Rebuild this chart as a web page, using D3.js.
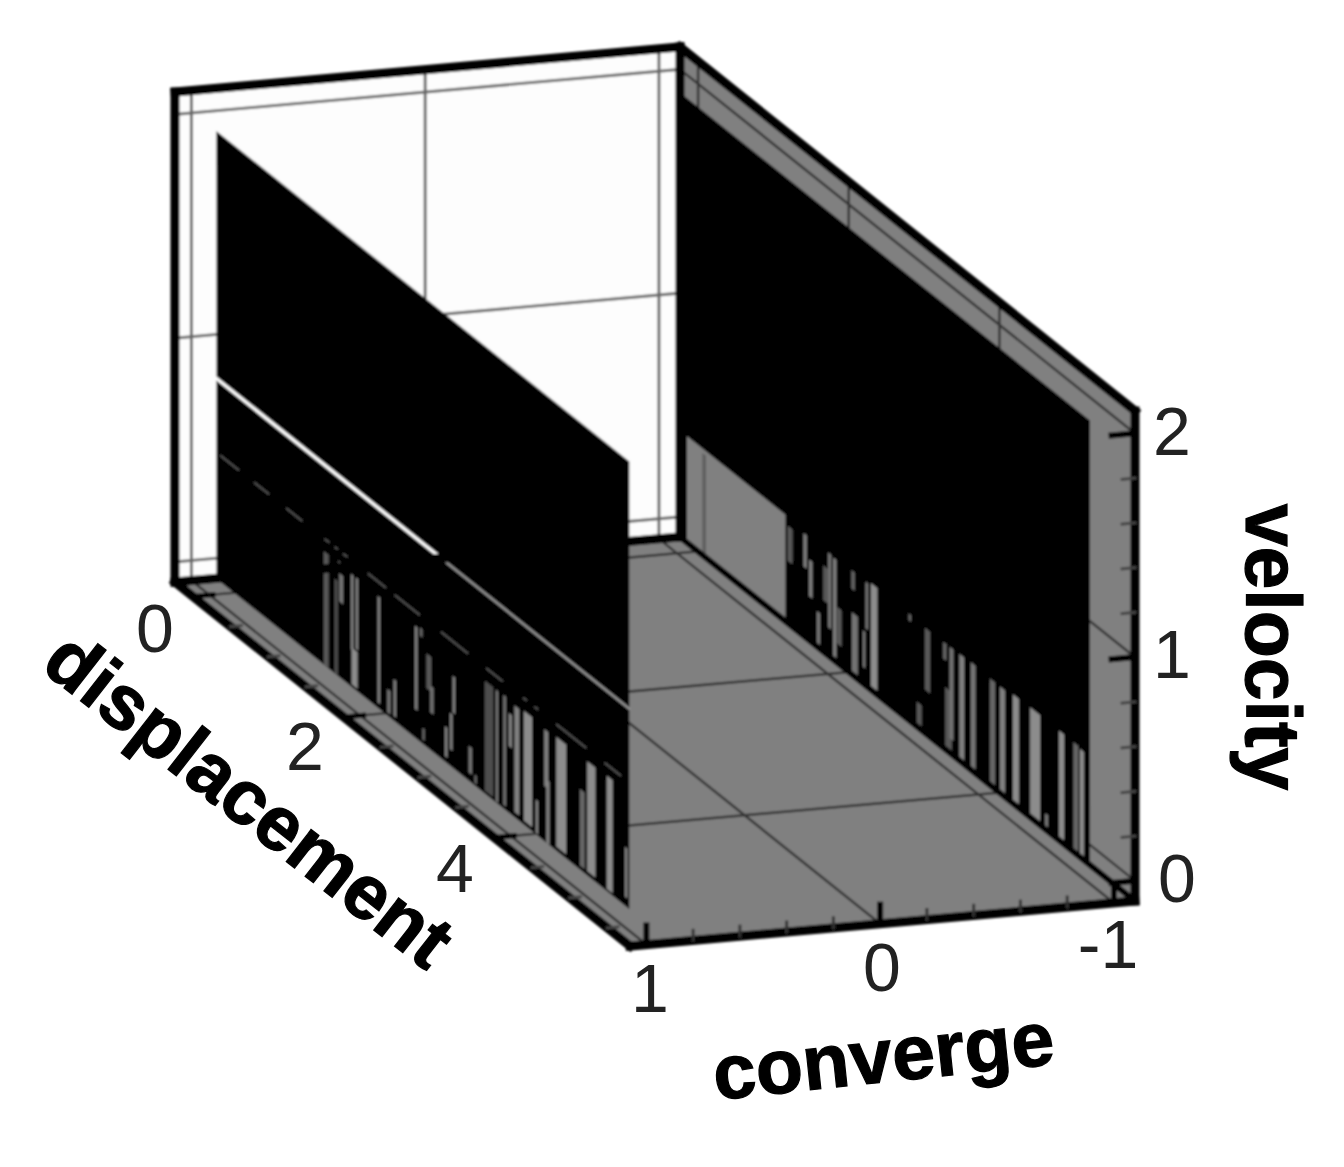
<!DOCTYPE html>
<html>
<head>
<meta charset="utf-8">
<script src="https://d3js.org/d3.v7.min.js"></script>
<style>
body { margin: 0; background: #fff; }
text { font-family: "Liberation Sans", Arial, sans-serif; }
.num { font-size: 68px; fill: #222; text-anchor: middle; }
.title { font-size: 77px; font-weight: bold; fill: #000; stroke: #000; stroke-width: 1.2px; text-anchor: middle; }
</style>
</head>
<body>
<div id="content"></div>
<script>
//axis extents of the plot box
var convergeRange = [1.07, -1.09];
var displacementRange = [-0.24, 5.8];
var velocityRange = [-0.09, 2.1];

var convergeTicks = [1, 0, -1];
var displacementTicks = [0, 2, 4];
var velocityTicks = [0, 1, 2];

//the two sheets of the trace: which converge value they sit on and how far they run
var sheetConverge = [0.97, -1];
var sheetDisplacement = [0, 5.48];
var sheetVelocity = [-0.02, 1.98];

//openings in the left sheet: displacement, width, velocity low, velocity high, grey level
//velocities here are read from the foot of the sheet
var leftGaps = [
    [1.456,0.066,0,0.507,0.35],[1.589,0.044,0,0.424,0.3],[1.656,0.053,0.338,0.464,0.45],[1.633,0.03,0.496,0.518,0.4],
    [1.802,0.035,0.168,0.503,0.5],[1.833,0.08,0.012,0.176,0.55],[1.864,0.035,0.185,0.504,0.5],[2.156,0.035,0.024,0.5,0.5],
    [2.289,0.044,0.015,0.119,0.45],[2.368,0.035,0.021,0.185,0.5],[2.652,0.035,0.128,0.5,0.5],[2.718,0.035,0.473,0.51,0.4],
    [2.749,0.027,0.019,0.071,0.45],[2.82,0.066,0.262,0.418,0.35],[2.86,0.044,0.168,0.287,0.45],[3.05,0.035,0.025,0.159,0.5],
    [3.116,0.035,0.073,0.237,0.5],[3.152,0.035,0.247,0.411,0.5],[3.369,0.044,0.037,0.156,0.45],[3.44,0.027,0.01,0.048,0.45],
    [3.617,0.11,0.013,0.504,0.3],[3.723,0.035,0.004,0.503,0.45],[3.825,0.035,0.016,0.507,0.45],[3.9,0.044,0.298,0.446,0.5],
    [3.988,0.066,0.024,0.5,0.5],[4.135,0.11,0.018,0.509,0.55],[4.254,0.035,0.006,0.155,0.5],[4.378,0.053,0.247,0.5,0.5],
    [4.4,0.044,0,0.283,0.5],[4.577,0.133,0.018,0.509,0.55],[4.856,0.066,0.018,0.36,0.4],[4.976,0.11,0.019,0.51,0.55],
    [5.22,0.08,0.01,0.516,0.55],[5.44,0.035,0.04,0.263,0.5]
];

//openings in the right sheet, same columns. The first one is the big window near the back
var rightGaps = [
    [0.785,1.31,0,0.49,0.5],[0.36,0.05,0,0.47,0.38],
    [1.5,0.066,0.293,0.449,0.35],[1.7,0.044,0.324,0.473,0.5],[1.775,0.044,0.211,0.375,0.5],[1.877,0.044,0.001,0.173,0.45],
    [1.974,0.066,0.244,0.4,0.35],[2.027,0.044,0.14,0.475,0.45],[2.094,0.044,0,0.47,0.5],[2.151,0.066,0.1,0.263,0.35],
    [2.337,0.044,0.397,0.479,0.4],[2.359,0.08,0,0.292,0.45],[2.483,0.035,0.088,0.251,0.45],[2.519,0.035,0.269,0.478,0.45],
    [2.616,0.088,0,0.49,0.55],[3.09,0.035,0.46,0.49,0.4],[3.214,0.066,0,0.125,0.35],[3.325,0.066,0.208,0.484,0.35],
    [3.555,0.044,0.412,0.487,0.4],[3.604,0.088,0.016,0.292,0.35],[3.643,0.053,0.079,0.488,0.45],[3.78,0.066,0.006,0.49,0.5],
    [3.931,0.066,0.01,0.494,0.45],[4.188,0.066,0.006,0.49,0.4],[4.32,0.066,0.006,0.49,0.5],[4.498,0.08,0.01,0.501,0.55],
    [4.754,0.133,0,0.505,0.55],[4.905,0.035,0.01,0.085,0.5],[5.104,0.066,0.006,0.504,0.55],[5.294,0.066,0.013,0.504,0.4],
    [5.374,0.053,0.006,0.497,0.55]
];

//bright line across the left sheet, and the broken faint one below it
var brightVelocity = 0.895;
var brightRuns = [[0, 2.96, 1], [3.05, 5.48, 0.6]];
var faintVelocity = 0.565;
var faintRuns = [[0.05,0.3],[0.5,0.7],[0.925,1.14],[1.435,1.5],[1.57,1.61],[1.68,1.74],[2.01,2.25],[2.365,2.7],[2.98,3.34],[3.58,3.8],[4.07,4.12],[4.22,4.27],[4.51,4.91],[5.15,5.37]];

var width = 1344;
var height = 1167;

//the picture is a parallel projection so three scales per screen direction are enough
var cx = d3.scaleLinear().domain(convergeRange).range([0, 505]);
var cy = d3.scaleLinear().domain(convergeRange).range([0, -45]);
var dx = d3.scaleLinear().domain(displacementRange).range([175, 630]);
var dy = d3.scaleLinear().domain(displacementRange).range([582, 946]);
var vy = d3.scaleLinear().domain(velocityRange).range([0, -490]);

function project(c, d, v){
    return [cx(c) + dx(d), cy(c) + dy(d) + vy(v)];
}

var gray = d3.scaleLinear().domain([0, 1]).range(["#000", "#fff"]);
var path = d3.line();

var svg = d3.select("#content").append("svg")
    .attr("width", width)
    .attr("height", height)
    .style("display", "block");

var soft = svg.append("defs").append("filter").attr("id", "soft");
soft.append("feGaussianBlur").attr("stdDeviation", 0.8);

var box = svg.append("g").attr("filter", "url(#soft)");

var cLo = convergeRange[1], cHi = convergeRange[0];
var dLo = displacementRange[0], dHi = displacementRange[1];
var vLo = velocityRange[0], vHi = velocityRange[1];

function face(pts, fill){
    box.append("path")
        .attr("d", path(pts) + "Z")
        .attr("fill", fill);
}

function seg(a, b, color, w){
    box.append("path")
        .attr("d", path([a, b]))
        .attr("stroke", color)
        .attr("stroke-width", w)
        .attr("stroke-linecap", "square")
        .attr("fill", "none");
}

//Box faces
face([project(cHi,dLo,vLo), project(cLo,dLo,vLo), project(cLo,dLo,vHi), project(cHi,dLo,vHi)], "#fdfdfd");
face([project(cLo,dLo,vLo), project(cLo,dHi,vLo), project(cLo,dHi,vHi), project(cLo,dLo,vHi)], "#808080");
face([project(cHi,dLo,vLo), project(cLo,dLo,vLo), project(cLo,dHi,vLo), project(cHi,dHi,vLo)], "#808080");

//Grid lines, back wall then floor then side wall
var gridColor = "#333";
convergeTicks.forEach(function(c){
    seg(project(c,dLo,vLo), project(c,dLo,vHi), "#5c5c5c", 2.8);
    seg(project(c,dLo,vLo), project(c,dHi,vLo), gridColor, 2.5);
});
velocityTicks.forEach(function(v){
    seg(project(cHi,dLo,v), project(cLo,dLo,v), "#666", 2.8);
    seg(project(cLo,dLo,v), project(cLo,dHi,v), gridColor, 2.5);
});
displacementTicks.forEach(function(d){
    seg(project(cHi,d,vLo), project(cLo,d,vLo), gridColor, 2.5);
    seg(project(cLo,d,vLo), project(cLo,d,vHi), gridColor, 2.5);
});

//Right sheet goes in first, everything on the left one covers it
function drawSheet(c, gaps){
    var base = sheetVelocity[0];
    face([project(c,sheetDisplacement[0],base), project(c,sheetDisplacement[1],base),
          project(c,sheetDisplacement[1],sheetVelocity[1]), project(c,sheetDisplacement[0],sheetVelocity[1])], "#000");
    gaps.forEach(function(g){
        var a = g[0] - g[1]/2, b = g[0] + g[1]/2;
        face([project(c,a,base + g[2]), project(c,b,base + g[2]), project(c,b,base + g[3]), project(c,a,base + g[3])], gray(g[4]));
    });
}

drawSheet(sheetConverge[1], rightGaps);

//edge of the floor against the side wall runs over the bottom of the right sheet
seg(project(cLo,dLo,vLo), project(cLo,dHi,vLo), "#000", 6);

drawSheet(sheetConverge[0], leftGaps);

var sheetBase = sheetVelocity[0];
brightRuns.forEach(function(r){
    seg(project(sheetConverge[0],r[0],sheetBase + brightVelocity), project(sheetConverge[0],r[1],sheetBase + brightVelocity), gray(r[2]), r[2] == 1 ? 3.2 : 2.2);
});
faintRuns.forEach(function(r){
    box.append("path")
        .attr("d", path([project(sheetConverge[0],r[0],sheetBase + faintVelocity), project(sheetConverge[0],r[1],sheetBase + faintVelocity)]))
        .attr("stroke", "#5a5a5a")
        .attr("stroke-width", 1.6);
});

//Thick box outline
var outline = [
    [[cHi,dLo,vLo],[cHi,dLo,vHi]], [[cHi,dLo,vHi],[cLo,dLo,vHi]], [[cLo,dLo,vHi],[cLo,dLo,vLo]],
    [[cLo,dLo,vHi],[cLo,dHi,vHi]], [[cLo,dHi,vHi],[cLo,dHi,vLo]], [[cLo,dHi,vLo],[cHi,dHi,vLo]],
    [[cHi,dHi,vLo],[cHi,dLo,vLo]], [[cHi,dLo,vLo],[cLo,dLo,vLo]]
];
outline.forEach(function(o){
    seg(project(o[0][0],o[0][1],o[0][2]), project(o[1][0],o[1][1],o[1][2]), "#000", 9);
});

//Ticks. Minor ones come from the scales ticks between the extents
var cTickScale = d3.scaleLinear().domain([-1, 1]);
cTickScale.ticks(10).forEach(function(c){
    var major = convergeTicks.indexOf(c) >= 0;
    var len = major ? 0.085 : 0.045;
    seg(project(c,dHi,vLo), project(c,dHi,vLo + len), major ? "#000" : "#333", major ? 6 : 3);
});
var vTickScale = d3.scaleLinear().domain([0, 2]);
vTickScale.ticks(10).forEach(function(v){
    var major = velocityTicks.indexOf(v) >= 0;
    var len = major ? 0.1 : 0.055;
    seg(project(cLo,dHi,v), project(cLo + len,dHi,v), major ? "#000" : "#444", major ? 6 : 3);
});
var dTickScale = d3.scaleLinear().domain([0, 5.5]);
dTickScale.ticks(11).forEach(function(d){
    var major = displacementTicks.indexOf(d) >= 0;
    var len = major ? 0.085 : 0.045;
    seg(project(cHi,d,vLo), project(cHi - len,d,vLo), major ? "#000" : "#444", major ? 5 : 3);
});

//Labels
var labels = svg.append("g");
function num(t, x, y){
    labels.append("text").attr("class", "num").attr("x", x).attr("y", y).text(t);
}
var cLabelPos = [[650,1012],[882,991],[1108,968]];
convergeTicks.forEach(function(c, i){ num(c, cLabelPos[i][0], cLabelPos[i][1]); });
var dLabelPos = [[155,652],[305,770],[455,892]];
displacementTicks.forEach(function(d, i){ num(d, dLabelPos[i][0], dLabelPos[i][1]); });
var vLabelPos = [[1177,902],[1172,678],[1172,455]];
velocityTicks.forEach(function(v, i){ num(v, vLabelPos[i][0], vLabelPos[i][1]); });

function title(t, x, y, rot){
    labels.append("text").attr("class", "title")
        .attr("transform", "translate(" + x + "," + y + ") rotate(" + rot + ")")
        .text(t);
}
title("displacement", 233, 820, 38);
title("converge", 886, 1082, -6);
title("velocity", 1246, 647, 90);
</script>
</body>
</html>
